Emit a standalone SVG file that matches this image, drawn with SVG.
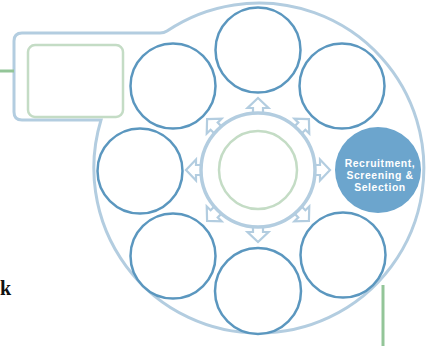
<svg xmlns="http://www.w3.org/2000/svg" width="433" height="346" viewBox="0 0 433 346">
<defs>
<style>
.frame{fill:#fff;stroke:#b3cde0;stroke-width:3}
.ring{fill:none;stroke:#b3cde0;stroke-width:3.5}
.node{fill:#fff;stroke:#5b97bf;stroke-width:2.5}
.hub{fill:none;stroke:#c4dcc5;stroke-width:2.5}
.box{fill:#fff;stroke:#c4dcc5;stroke-width:2.5}
.arrow{fill:#fff;stroke:#b3cde0;stroke-width:2.2;stroke-linejoin:miter}
.green{stroke:#93c598;stroke-width:3;fill:none}
.label{font-family:"Liberation Sans",Arial,sans-serif;font-weight:bold;font-size:10.4px;letter-spacing:0.6px;fill:#fff;text-anchor:middle}
</style>
<path id="arr" class="arrow" d="M-5,-56 L-5,-62 L-10.5,-62 L0,-72 L10.5,-62 L5,-62 L5,-56"/>
</defs>
<rect width="433" height="346" fill="#fff"/>
<g id="frame">
<path class="frame" d="M101,120 L22,120 Q14,120 14,112 L14,41 Q14,33 22,33 L160,33 Q164,33 167,31 A165,165 0 1 1 101,120 Z"/>
</g>
<g id="connectors">
<line class="green" x1="0" y1="71" x2="14" y2="71"/>
<line class="green" x1="383" y1="285" x2="383" y2="346"/>
<g transform="translate(258,170)">
<use href="#arr"/>
<use href="#arr" transform="rotate(45)"/>
<use href="#arr" transform="rotate(90)"/>
<use href="#arr" transform="rotate(135)"/>
<use href="#arr" transform="rotate(180)"/>
<use href="#arr" transform="rotate(225)"/>
<use href="#arr" transform="rotate(270)"/>
<use href="#arr" transform="rotate(315)"/>
</g>
</g>
<g id="tab-box"><rect class="box" x="28" y="45" width="95" height="72" rx="7"/></g>
<g id="hub">
<circle class="ring" cx="258" cy="170" r="57"/>
<circle class="hub" cx="258" cy="170" r="39"/>
</g>
<g id="node-top"><circle class="node" cx="258" cy="50" r="42.5"/></g>
<g id="node-top-right"><circle class="node" cx="342" cy="86" r="42.5"/></g>
<g id="node-recruitment">
<circle cx="378" cy="170" r="43" fill="#6ca5cd"/>
<text class="label" x="380" y="167">Recruitment,</text>
<text class="label" x="380" y="179.2">Screening &amp;</text>
<text class="label" x="380" y="191.4">Selection</text>
</g>
<g id="node-bottom-right"><circle class="node" cx="343" cy="255" r="42.5"/></g>
<g id="node-bottom"><circle class="node" cx="258" cy="291" r="43"/></g>
<g id="node-bottom-left"><circle class="node" cx="173" cy="256" r="42.5"/></g>
<g id="node-left"><circle class="node" cx="140" cy="171" r="42.5"/></g>
<g id="node-top-left"><circle class="node" cx="173" cy="86" r="42.5"/></g>
<text x="11" y="295" font-family="'Liberation Serif',serif" font-weight="bold" font-size="20" text-anchor="end" fill="#111">k</text>
</svg>
